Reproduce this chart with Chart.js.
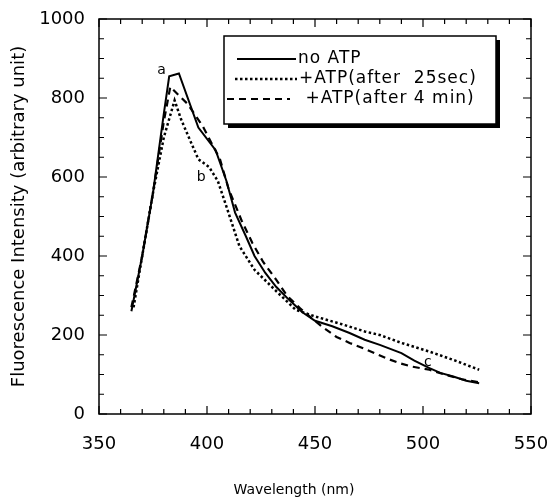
<!DOCTYPE html>
<html>
<head>
<meta charset="utf-8">
<script src="https://cdn.jsdelivr.net/npm/chart.js@4/dist/chart.umd.min.js"></script>
<style>
  html, body { margin: 0; padding: 0; background: #fff; }
  #wrap { width: 552px; height: 498px; position: relative; }
</style>
</head>
<body>
<div id="wrap"><canvas id="spec"></canvas></div>
<script>
'use strict';

// ── Data ────────────────────────────────────────────────
const noAtpX = [365, 370, 375, 380, 382.5, 387, 396, 404, 409, 413, 418, 422, 427, 432, 438, 444, 450, 458, 466, 473, 480, 490, 496, 503, 508, 514, 520, 526];
const noAtpY = [260, 400, 560, 760, 855, 862, 725, 668, 590, 510, 450, 400, 357, 322, 289, 258, 236, 222, 205, 188, 175, 154, 135, 116, 104, 95, 84, 78];

const atp25X = [366, 370, 375, 380, 385, 388, 392, 396, 401, 405, 409, 415, 422, 433, 441, 450, 462, 473, 480, 490, 503, 515, 526];
const atp25Y = [270, 400, 560, 700, 794, 746, 695, 645, 625, 590, 525, 425, 365, 306, 264, 247, 228, 209, 200, 180, 158, 135, 112];

const atp4X = [365, 370, 375, 380, 383, 391, 398, 406, 410, 416, 421, 426, 432, 437, 443, 448, 453, 460, 466, 472, 483, 489, 495, 503, 510, 518, 526];
const atp4Y = [270, 400, 560, 740, 828, 785, 729, 645, 570, 490, 433, 385, 340, 300, 268, 245, 222, 195, 180, 167, 141, 129, 120, 112, 100, 88, 80];

const seriesNames = ['no ATP', '+ATP(after  25sec)', ' +ATP(after 4 min)'];

const pointTags = [
  { text: 'a', x: 379, y: 870 },
  { text: 'b', x: 397.3, y: 600 },
  { text: 'c', x: 502.2, y: 132 },
];

const xTitle = 'Wavelength (nm)';
const yTitle = 'Fluorescence Intensity (arbitrary unit)';

const FONT = '"DejaVu Sans", sans-serif';

const toPts = (xs, ys) => xs.map((x, i) => ({ x, y: ys[i] }));

// ── Plugins ─────────────────────────────────────────────
// frame box + inward ticks on all four sides
const frameTicks = {
  id: 'frameTicks',
  afterDraw(c) {
    const { ctx, chartArea: a, scales: { x, y } } = c;
    ctx.save();
    ctx.strokeStyle = '#000';
    ctx.lineWidth = 1.5;
    ctx.strokeRect(a.left, a.top, a.right - a.left, a.bottom - a.top);
    ctx.lineWidth = 1.2;
    ctx.beginPath();
    for (let v = 350; v <= 550; v += 10) {
      const px = x.getPixelForValue(v);
      const len = v % 50 === 0 ? 8 : 5;
      ctx.moveTo(px, a.bottom); ctx.lineTo(px, a.bottom - len);
      ctx.moveTo(px, a.top);    ctx.lineTo(px, a.top + len);
    }
    for (let v = 0; v <= 1000; v += 50) {
      const py = y.getPixelForValue(v);
      const len = v % 200 === 0 ? 8 : 5;
      ctx.moveTo(a.left, py);  ctx.lineTo(a.left + len, py);
      ctx.moveTo(a.right, py); ctx.lineTo(a.right - len, py);
    }
    ctx.stroke();
    ctx.restore();
  },
};

// legend box with drop shadow, peak letters and x title
const extras = {
  id: 'extras',
  afterDraw(c) {
    const { ctx, scales: { x, y } } = c;
    ctx.save();

    // legend
    const bx = 224, by = 36, bw = 272, bh = 88;
    ctx.fillStyle = '#000';
    ctx.fillRect(bx + 4, by + 4, bw, bh);
    ctx.fillStyle = '#fff';
    ctx.fillRect(bx, by, bw, bh);
    ctx.strokeStyle = '#000';
    ctx.lineWidth = 1.5;
    ctx.strokeRect(bx, by, bw, bh);

    const rows = [
      { y: 59, x0: 237, x1: 296, tx: 298 },
      { y: 79, x0: 235, x1: 297, tx: 299 },
      { y: 99, x0: 227, x1: 290, tx: 299 },
    ];
    ctx.font = `17px ${FONT}`;
    ctx.letterSpacing = '1px';
    ctx.textBaseline = 'middle';
    ctx.textAlign = 'left';
    c.data.datasets.forEach((ds, i) => {
      const r = rows[i];
      ctx.beginPath();
      ctx.lineWidth = ds.borderWidth;
      ctx.setLineDash(ds.borderDash || []);
      ctx.moveTo(r.x0, r.y); ctx.lineTo(r.x1, r.y);
      ctx.stroke();
      ctx.setLineDash([]);
      ctx.fillStyle = '#000';
      ctx.fillText(seriesNames[i], r.tx, r.y);
    });
    ctx.letterSpacing = '0px';

    // peak letters
    ctx.font = `14px ${FONT}`;
    ctx.textAlign = 'center';
    pointTags.forEach(t => {
      ctx.fillText(t.text, x.getPixelForValue(t.x), y.getPixelForValue(t.y));
    });

    // x title
    ctx.font = `14px ${FONT}`;
    ctx.fillText(xTitle, 294, 490);
    ctx.restore();
  },
};

// ── Chart ───────────────────────────────────────────────
new Chart(document.getElementById('spec'), {
  type: 'scatter',
  data: {
    datasets: [
      { label: seriesNames[0], data: toPts(noAtpX, noAtpY), borderColor: '#000', borderWidth: 2 },
      { label: seriesNames[1], data: toPts(atp25X, atp25Y), borderColor: '#000', borderWidth: 2.5, borderDash: [2.5, 2.5] },
      { label: seriesNames[2], data: toPts(atp4X, atp4Y), borderColor: '#000', borderWidth: 2.2, borderDash: [7, 5] },
    ].map(ds => ({ ...ds, showLine: true, pointRadius: 0, tension: 0, fill: false })),
  },
  options: {
    animation: false,
    responsive: true,
    maintainAspectRatio: false,
    layout: { padding: { top: 19, right: 21, left: 0, bottom: 0 } },
    plugins: { legend: { display: false }, tooltip: { enabled: false } },
    scales: {
      x: {
        type: 'linear', min: 350, max: 550,
        grid: { display: false, drawTicks: false },
        border: { display: false },
        ticks: { stepSize: 50, color: '#000', padding: 20, font: { family: FONT, size: 18 } },
        afterFit: s => { s.height = 84; s.paddingLeft = 0; s.paddingRight = 0; },
      },
      y: {
        type: 'linear', min: 0, max: 1000,
        grid: { display: false, drawTicks: false },
        border: { display: false },
        ticks: { stepSize: 200, color: '#000', padding: 14, font: { family: FONT, size: 18 }, callback: v => String(v) },
        title: { display: true, text: yTitle, color: '#000', padding: { top: 9, bottom: 0 }, font: { family: FONT, size: 18 } },
        afterFit: s => { s.width = 99; s.paddingTop = 0; s.paddingBottom = 0; },
      },
    },
  },
  plugins: [frameTicks, extras],
});
</script>
</body>
</html>
